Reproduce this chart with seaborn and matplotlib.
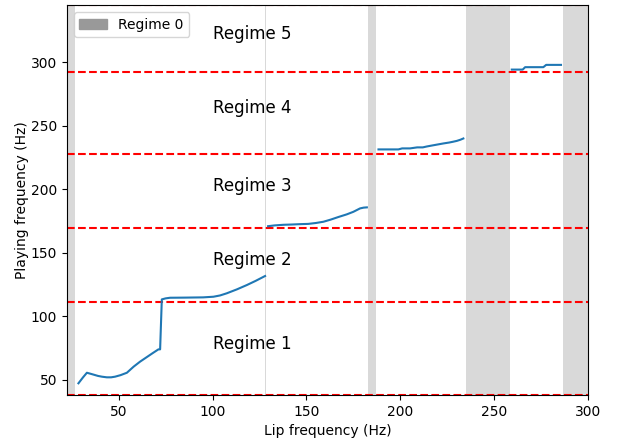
import matplotlib
matplotlib.use("Agg")
import matplotlib.pyplot as plt
from matplotlib.patches import Patch
import seaborn as sns
import pandas as pd

# Playing frequency (Hz) against lip frequency (Hz), one list per continuous branch
seg1_x = [28.6, 31.0, 33.1, 36.0, 39.0, 41.1, 43.7, 46.0, 48.1, 51.0, 54.4, 58.0, 61.4, 65.0, 68.0,
          71.2, 72.1, 73.0, 75.0, 77.4, 85.0, 95.0, 100.5, 104.0, 107.6, 113.0, 118.3, 123.0, 128.0]
seg1_y = [47.4, 52.0, 55.7, 54.5, 53.2, 52.6, 52.1, 52.1, 52.6, 53.8, 55.7, 60.5, 64.4, 68.0, 71.0,
          74.1, 74.1, 113.4, 114.2, 114.7, 114.8, 115.0, 115.5, 116.5, 118.2, 121.3, 124.7, 128.0, 131.8]
seg2_x = [129.6, 133.0, 137.8, 142.0, 146.6, 151.0, 155.0, 159.1, 163.0, 167.0, 171.5, 175.0, 178.6, 180.5, 182.2]
seg2_y = [171.0, 171.6, 172.1, 172.3, 172.6, 172.8, 173.5, 174.5, 176.2, 178.2, 180.3, 182.3, 185.0, 185.6, 185.8]
seg3_x = [188.4, 193.0, 199.0, 201.0, 205.2, 209.0, 212.0, 214.1, 217.0, 220.0, 223.0, 226.0, 228.0, 230.1, 232.0, 233.6]
seg3_y = [231.4, 231.4, 231.4, 232.2, 232.2, 233.0, 233.0, 233.7, 234.5, 235.3, 236.1, 236.8, 237.4, 238.1, 239.0, 240.0]
seg4_x = [259.4, 265.2, 266.5, 276.2, 277.7, 285.6]
seg4_y = [294.2, 294.2, 296.1, 296.1, 297.9, 297.9]

# Regime boundaries (playing frequency) and regime labels
regime_bounds = [38.2, 111.0, 169.5, 228.0, 292.0, 345.0]
regime_names = ["Regime 1", "Regime 2", "Regime 3", "Regime 4", "Regime 5"]

# Lip-frequency bands where no oscillation is sustained (regime 0)
regime0_bands = [(22.5, 26.8), (128.1, 128.25), (182.9, 187.1), (234.9, 258.5), (286.7, 300.0)]

segments = [(seg1_x, seg1_y), (seg2_x, seg2_y), (seg3_x, seg3_y), (seg4_x, seg4_y)]
frames = []
for i, (sx, sy) in enumerate(segments):
    frames.append(pd.DataFrame({"lip": sx, "play": sy, "branch": i}))
df = pd.concat(frames, ignore_index=True)

fig = plt.figure(figsize=(6.18, 4.40), dpi=100)
ax = fig.add_axes([0.1084, 0.1023, 0.8431, 0.8863])

for lo, hi in regime0_bands:
    ax.axvspan(lo, hi, color="#d9d9d9", lw=0, zorder=0)

for b in regime_bounds:
    ax.axhline(b, color="red", ls="--", lw=1.5, zorder=1)

for i in range(len(regime_names)):
    mid = 0.5 * (regime_bounds[i] + regime_bounds[i + 1])
    ax.text(100, mid, regime_names[i], fontsize=12, ha="left", va="baseline")

for _, g in df.groupby("branch"):
    sns.lineplot(data=g, x="lip", y="play", color="#1f77b4", lw=1.5, sort=False,
                 estimator=None, ax=ax, zorder=3)

ax.set_xlim(22.5, 300)
ax.set_ylim(regime_bounds[0], regime_bounds[-1])
ax.set_xticks([50, 100, 150, 200, 250, 300])
ax.set_yticks([50, 100, 150, 200, 250, 300])
ax.set_xlabel("Lip frequency (Hz)")
ax.set_ylabel("Playing frequency (Hz)", labelpad=1.5)

ax.legend(handles=[Patch(color="#999999", label="Regime 0")], loc="upper left")

fig.savefig("out.png", dpi=100)
